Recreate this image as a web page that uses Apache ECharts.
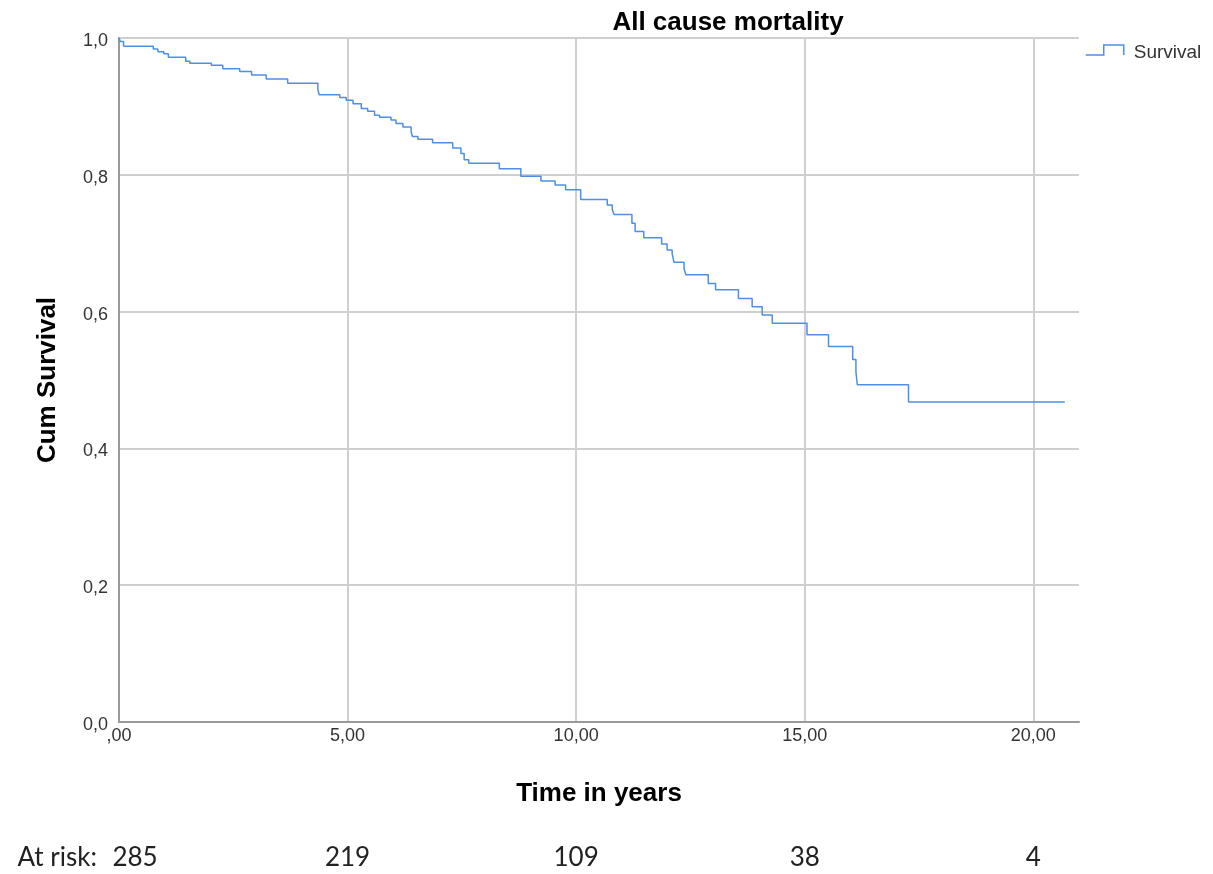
<!DOCTYPE html>
<html>
<head>
<meta charset="utf-8">
<script src="https://cdn.jsdelivr.net/npm/echarts@6/dist/echarts.min.js"></script>
<style>
html,body{margin:0;padding:0;background:#fff;}
#chart{width:1213px;height:874px;}
</style>
</head>
<body>
<div id="chart"></div>
<script>
// Kaplan-Meier step points (time in years, cumulative survival)
var times = [0, 0.03, 0.1, 0.75, 0.85, 0.98, 1.08, 1.46, 1.55, 2.02, 2.27, 2.64, 2.9, 3.22, 3.69, 4.35, 4.38,
  4.83, 4.97, 5.12, 5.30, 5.44, 5.59, 5.70, 5.95, 6.06, 6.21, 6.39, 6.42, 6.54, 6.86, 7.30, 7.48, 7.55, 7.65,
  8.32, 8.79, 9.23, 9.54, 9.77, 10.10, 10.68, 10.79, 10.83, 11.22, 11.29, 11.48, 11.87, 11.99, 12.10, 12.14,
  12.36, 12.40, 12.89, 13.05, 13.55, 13.85, 14.07, 14.29, 15.05, 15.52, 16.05, 16.12, 16.15, 17.27, 20.69];
var survival = [1.0, 0.995, 0.988, 0.984, 0.980, 0.977, 0.972, 0.966, 0.963, 0.960, 0.955, 0.951, 0.946, 0.940, 0.934, 0.925, 0.917,
  0.913, 0.909, 0.904, 0.897, 0.893, 0.887, 0.884, 0.880, 0.875, 0.870, 0.863, 0.856, 0.852, 0.847, 0.839, 0.831, 0.822, 0.817,
  0.809, 0.798, 0.791, 0.785, 0.778, 0.764, 0.756, 0.749, 0.742, 0.729, 0.717, 0.708, 0.699, 0.690, 0.685, 0.672,
  0.663, 0.654, 0.641, 0.632, 0.619, 0.607, 0.595, 0.583, 0.566, 0.549, 0.530, 0.512, 0.493, 0.468, 0.468];
var atRiskTimes = [0, 5, 10, 15, 20];
var atRiskCounts = [285, 219, 109, 38, 4];

var data = times.map(function (t, i) { return [t, survival[i]]; });

function fmtX(v) {
  if (v === 0) return ',00';
  return v.toFixed(2).replace('.', ',');
}
function fmtY(v) {
  return '{a|' + v.toFixed(1).replace('.', ',') + '}';
}

var chart = echarts.init(document.getElementById('chart'), null, {renderer: 'canvas'});
var lineColor = '#4d8fe6';
chart.setOption({
  animation: false,
  backgroundColor: '#ffffff',
  title: {
    text: 'All cause mortality',
    left: 723,
    textAlign: 'center',
    top: 5,
    textStyle: {fontFamily: 'Liberation Sans', fontSize: 26, fontWeight: 'bold', color: '#000'}
  },
  legend: {
    left: 1085,
    top: 43,
    padding: 0,
    itemWidth: 38,
    itemHeight: 11,
    itemGap: 10,
    data: [{name: 'Survival', icon: 'path://M0,10 L18,10 L18,0 L38,0 L38,10'}],
    itemStyle: {color: 'rgba(0,0,0,0)', borderColor: lineColor, borderWidth: 1.5},
    formatter: function (n) { return '{a|' + n + '}'; },
    textStyle: {
      fontFamily: 'Liberation Sans', fontSize: 19, color: '#333',
      rich: {a: {fontFamily: 'Liberation Sans', fontSize: 19, color: '#333', padding: [5, 0, 0, 5]}}
    }
  },
  grid: {left: 119, right: 134, top: 38, bottom: 152, containLabel: false},
  xAxis: [{
    type: 'value',
    min: 0, max: 21, interval: 5,
    name: 'Time in years',
    nameLocation: 'middle',
    nameGap: 59,
    nameTextStyle: {fontFamily: 'Liberation Sans', fontSize: 26, fontWeight: 'bold', color: '#000'},
    axisLine: {show: true, lineStyle: {color: '#999', width: 2}},
    axisTick: {show: false},
    axisLabel: {formatter: fmtX, showMaxLabel: false, margin: 5, fontFamily: 'Liberation Sans', fontSize: 18, color: '#333'},
    splitLine: {show: true, showMaxLine: false, lineStyle: {color: '#cfcfcf', width: 2}}
  }, {
    type: 'value',
    min: 0, max: 21, interval: 5,
    position: 'bottom',
    offset: 136,
    name: 'At risk:',
    nameLocation: 'start',
    nameGap: 22,
    nameTextStyle: {fontFamily: 'Lato', fontSize: 26, color: '#222', align: 'right', verticalAlign: 'middle'},
    axisLine: {show: false},
    axisTick: {show: false},
    splitLine: {show: false},
    axisLabel: {
      margin: 0,
      verticalAlign: 'middle',
      showMaxLabel: false,
      fontFamily: 'Lato', fontSize: 26, color: '#222',
      formatter: function (v) {
        var i = atRiskTimes.indexOf(v);
        if (i < 0) return '';
        if (i === 0) return '{a|' + atRiskCounts[i] + '}';
        return String(atRiskCounts[i]);
      },
      rich: {a: {fontFamily: 'Lato', fontSize: 26, color: '#222', padding: [0, 0, 0, 32]}}
    }
  }],
  yAxis: {
    type: 'value',
    min: 0, max: 1, interval: 0.2,
    name: 'Cum Survival',
    nameLocation: 'middle',
    nameGap: 58,
    nameTextStyle: {fontFamily: 'Liberation Sans', fontSize: 26, fontWeight: 'bold', color: '#000'},
    axisLine: {show: true, lineStyle: {color: '#999', width: 2}},
    axisTick: {show: false},
    axisLabel: {
      formatter: fmtY, margin: 11, fontFamily: 'Liberation Sans', fontSize: 18, color: '#333',
      rich: {a: {fontFamily: 'Liberation Sans', fontSize: 18, color: '#333', padding: [6, 0, 0, 0]}}
    },
    splitLine: {show: true, lineStyle: {color: '#cfcfcf', width: 2}}
  },
  series: [{
    name: 'Survival',
    type: 'line',
    step: 'end',
    showSymbol: false,
    symbol: 'none',
    xAxisIndex: 0,
    data: data,
    lineStyle: {color: lineColor, width: 1.5},
    itemStyle: {color: lineColor}
  }]
});
</script>
</body>
</html>
